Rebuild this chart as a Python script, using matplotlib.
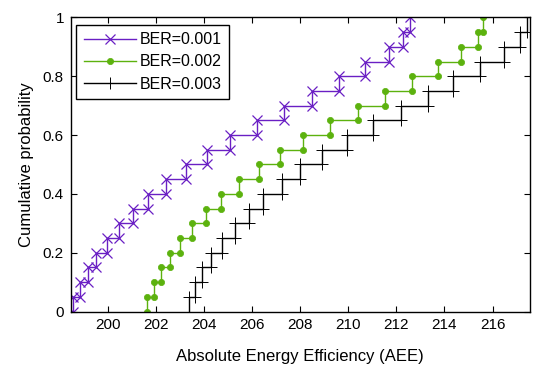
import numpy as np
import matplotlib
matplotlib.use('Agg')
import matplotlib.pyplot as plt

plt.rcParams['font.family'] = ['Liberation Sans', 'DejaVu Sans']

# sample values (20 samples per curve)
aee_ber1 = [198.55, 198.85, 199.19, 199.51, 199.96, 200.47, 201.04, 201.66, 202.42, 203.24,
            204.11, 205.08, 206.22, 207.33, 208.48, 209.63, 210.69, 211.70, 212.26, 212.56]
aee_ber2 = [201.65, 201.92, 202.22, 202.59, 203.00, 203.52, 204.09, 204.72, 205.44, 206.28,
            207.17, 208.13, 209.24, 210.39, 211.54, 212.65, 213.73, 214.71, 215.39, 215.61]
aee_ber3 = [203.39, 203.63, 203.91, 204.29, 204.74, 205.29, 205.87, 206.47, 207.23, 207.99,
            208.93, 209.96, 211.04, 212.18, 213.33, 214.34, 215.47, 216.47, 217.14, 217.45]
cdf_levels = [0.0, 0.05, 0.1, 0.15, 0.2, 0.25, 0.3, 0.35, 0.4, 0.45, 0.5,
              0.55, 0.6, 0.65, 0.7, 0.75, 0.8, 0.85, 0.9, 0.95, 1.0]
labels = ['BER=0.001', 'BER=0.002', 'BER=0.003']
xticks = [200, 202, 204, 206, 208, 210, 212, 214, 216]
yticks = [0, 0.2, 0.4, 0.6, 0.8, 1]
ytick_labels = ['0', '0.2', '0.4', '0.6', '0.8', '1']


def stair_vertices(xs, levels):
    # every jump gives two corners: (x, F_before) and (x, F_after)
    xs = np.repeat(np.asarray(xs), 2)
    lv = np.asarray(levels)
    ys = np.column_stack([lv[:-1], lv[1:]]).ravel()
    return xs, ys


fig = plt.figure(figsize=(5.33, 3.70), dpi=100)
ax = fig.add_axes([0.133, 0.158, 0.861, 0.795])

styles = [
    dict(color='#6a1fc4', marker='x', markersize=6.5, markeredgewidth=0.9),
    dict(color='#5cb20e', marker='o', markersize=4.5, markeredgewidth=0.5),
    dict(color='black', marker='+', markersize=9, markeredgewidth=0.7),
]
for data, label, st in zip([aee_ber1, aee_ber2, aee_ber3], labels, styles):
    xs, ys = stair_vertices(data, cdf_levels)
    ax.plot(xs, ys, linewidth=1.0, label=label, **st)

ax.set_xlim(198.47, 217.55)
ax.set_ylim(0, 1)
ax.set_xticks(xticks)
ax.set_yticks(yticks)
ax.set_yticklabels(ytick_labels)
ax.tick_params(direction='in', top=True, right=True, length=4, width=0.8,
               labelsize=11, pad=5)
for sp in ax.spines.values():
    sp.set_linewidth(1.0)

ax.set_xlabel('Absolute Energy Efficiency (AEE)', fontsize=12, labelpad=12)
ax.set_ylabel('Cumulative probability', fontsize=12, labelpad=6)

leg = ax.legend(loc='upper left', bbox_to_anchor=(0.005, 0.985), fontsize=11.5,
                handlelength=3.3, handletextpad=0.2, borderpad=0.45,
                labelspacing=0.45, fancybox=False, framealpha=1,
                edgecolor='black', borderaxespad=0.2)
leg.get_frame().set_linewidth(1.0)

fig.savefig('out.png', dpi=100)
plt.close(fig)
